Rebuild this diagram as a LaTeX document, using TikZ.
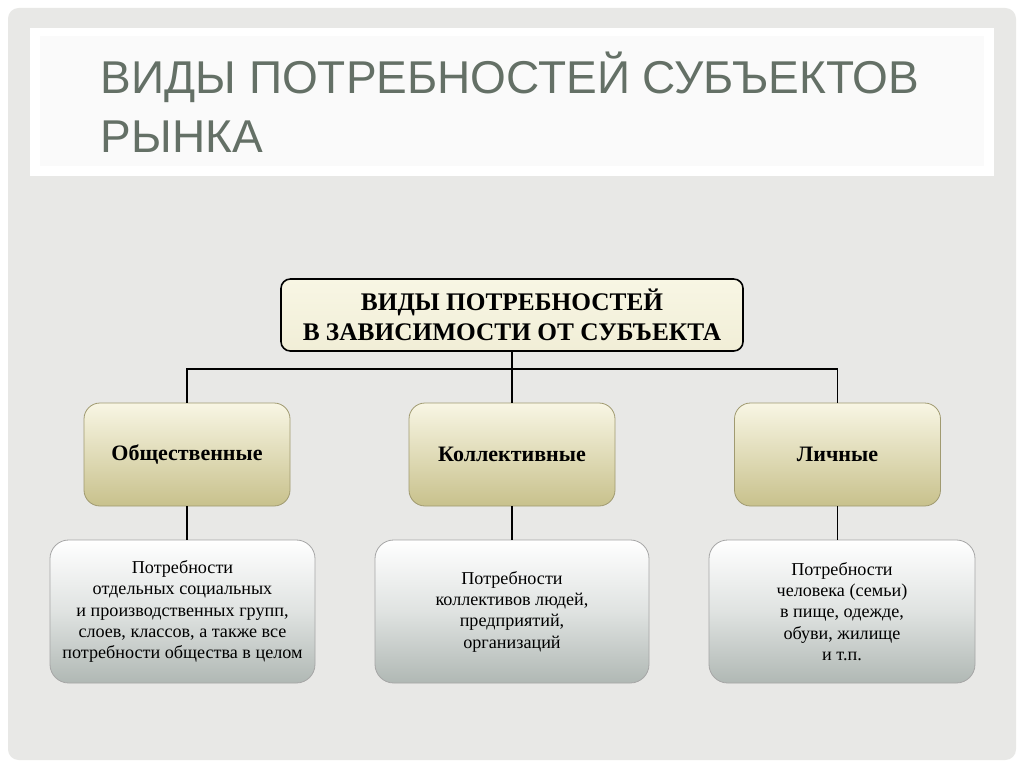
\documentclass[tikz,border=0pt]{standalone}
\usepackage{fontspec}
\setmainfont{Liberation Serif}
\newfontfamily\titlefont{Liberation Sans}
\definecolor{bg}{RGB}{232,232,230}
\definecolor{titlec}{RGB}{100,112,102}
\definecolor{oliveb}{RGB}{200,193,140}
\definecolor{creamt}{RGB}{248,246,228}
\definecolor{grayb}{RGB}{176,184,180}
\tikzset{
  topbox/.style={draw=black, line width=1.2pt, rounded corners=7pt, top color=creamt, bottom color=creamt!85!oliveb, minimum width=462*0.75pt, minimum height=72*0.75pt, align=center, font=\bfseries\fontsize{19}{22}\selectfont},
  midbox/.style={draw=oliveb!80!black, line width=0.6pt, rounded corners=12pt, top color=creamt, bottom color=oliveb, minimum width=206*0.75pt, minimum height=103*0.75pt, align=center, font=\bfseries\fontsize{16.5}{19}\selectfont},
  lowbox/.style={draw=gray!70, line width=0.6pt, rounded corners=14pt, top color=white, bottom color=grayb, middle color=white!60!grayb, minimum height=143*0.75pt, align=center, font=\fontsize{13.6}{16}\selectfont},
  link/.style={draw=black, line width=0.9pt}
}
\begin{document}
\begin{tikzpicture}[x=0.75pt,y=-0.75pt]
\useasboundingbox (0,0) rectangle (1024,767);
\fill[white] (0,0) rectangle (1024,767);
\fill[bg, rounded corners=8pt] (8,8) rectangle (1016,760);
\fill[white] (30,28) rectangle (994,176);
\fill[white!80!bg] (40,36) rectangle (984,166);
\node[text=titlec, align=left, anchor=west, font=\titlefont\fontsize{34.5}{44}\selectfont] (title) at (96,102) {ВИДЫ ПОТРЕБНОСТЕЙ СУБЪЕКТОВ\\РЫНКА};
\node[topbox] (top) at (512,315) {ВИДЫ ПОТРЕБНОСТЕЙ\\В ЗАВИСИМОСТИ ОТ СУБЪЕКТА};
\node[midbox] (m1) at (187,454.5) {Общественные};
\node[midbox] (m2) at (512,454.5) {Коллективные};
\node[midbox] (m3) at (837.5,454.5) {Личные};
\node[lowbox, minimum width=265*0.75pt] (b1) at (182.5,611.5) {Потребности\\отдельных социальных\\и производственных групп,\\слоев, классов, а также все\\потребности общества в целом};
\node[lowbox, minimum width=274*0.75pt] (b2) at (512,611.5) {Потребности\\коллективов людей,\\предприятий,\\организаций};
\node[lowbox, minimum width=266*0.75pt] (b3) at (842,611.5) {Потребности\\человека (семьи)\\в пище, одежде,\\обуви, жилище\\и т.п.};
\coordinate (j) at (512,369);
\draw[link] (top.south) -- (j);
\draw[link] (m1.north) |- (j) -| (m3.north);
\draw[link] (j) -- (m2.north);
\draw[link] (m1.south) -- (m1.south |- b1.north);
\draw[link] (m2.south) -- (b2.north);
\draw[link] (m3.south) -- (m3.south |- b3.north);
\end{tikzpicture}
\end{document}
